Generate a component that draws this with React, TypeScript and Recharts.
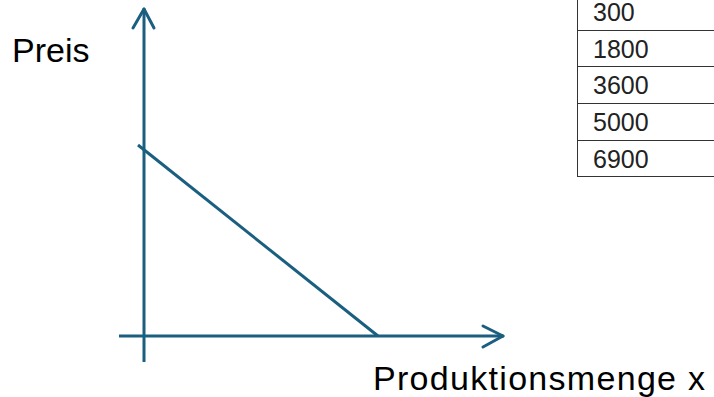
import { LineChart, XAxis, YAxis, ReferenceLine } from "recharts";

// demand line (menge -> preis), in drawing units
const demandMenge = [-6, 234];
const demandPreis = [191, 0];

// axis shafts and arrow heads as [x1, y1, x2, y2]
const axisShafts = [
  [0, -26, 0, 327],
  [-25, 0, 359, 0],
];
const arrowArms = [
  [-11, 308, 0, 327],
  [10, 308, 0, 327],
  [339, 10, 359, 0],
  [339, -11, 359, 0],
];

const tableValues = ["300", "1800", "3600", "5000", "6900"];

const BLUE = "#1a5f80";
const FONT = "'Liberation Sans', Arial, sans-serif";

export default function App() {
  const rowH = 36.7;
  return (
    <div style={{ position: "fixed", left: 0, top: 0, width: 714, height: 397, background: "#fff", overflow: "hidden", fontFamily: FONT }}>
      <LineChart width={714} height={397} margin={{ top: 0, right: 0, bottom: 0, left: 0 }}>
        <XAxis dataKey="menge" type="number" domain={[-144, 570]} hide allowDataOverflow />
        <YAxis dataKey="preis" type="number" domain={[-61, 336]} hide allowDataOverflow />
        {axisShafts.map(([x1, y1, x2, y2], i) => (
          <ReferenceLine
            key={`s${i}`}
            segment={[{ x: x1, y: y1 }, { x: x2, y: y2 }]}
            stroke={BLUE}
            strokeWidth={3}
            ifOverflow="visible"
          />
        ))}
        {arrowArms.map(([x1, y1, x2, y2], i) => (
          <ReferenceLine
            key={`a${i}`}
            segment={[{ x: x1, y: y1 }, { x: x2, y: y2 }]}
            stroke={BLUE}
            strokeWidth={3}
            strokeLinecap="round"
            ifOverflow="visible"
          />
        ))}
        <ReferenceLine
          segment={[
            { x: demandMenge[0], y: demandPreis[0] },
            { x: demandMenge[1], y: demandPreis[1] },
          ]}
          stroke={BLUE}
          strokeWidth={3}
          ifOverflow="visible"
        />
      </LineChart>

      <div style={{ position: "absolute", left: 12, top: 31, fontSize: 34, lineHeight: "38px", color: "#000" }}>Preis</div>
      <div style={{ position: "absolute", left: 373, top: 359, fontSize: 34, lineHeight: "38px", letterSpacing: 1.3, color: "#000", whiteSpace: "nowrap" }}>
        Produktionsmenge x
      </div>

      <div style={{ position: "absolute", left: 577, top: -6, width: 200, borderLeft: "1.5px solid #333" }}>
        {tableValues.map((v) => (
          <div
            key={v}
            style={{
              height: rowH,
              boxSizing: "border-box",
              borderBottom: "1.5px solid #333",
              paddingLeft: 15,
              fontSize: 25,
              lineHeight: `${rowH + 1}px`,
              color: "#222",
            }}
          >
            {v}
          </div>
        ))}
      </div>
    </div>
  );
}
